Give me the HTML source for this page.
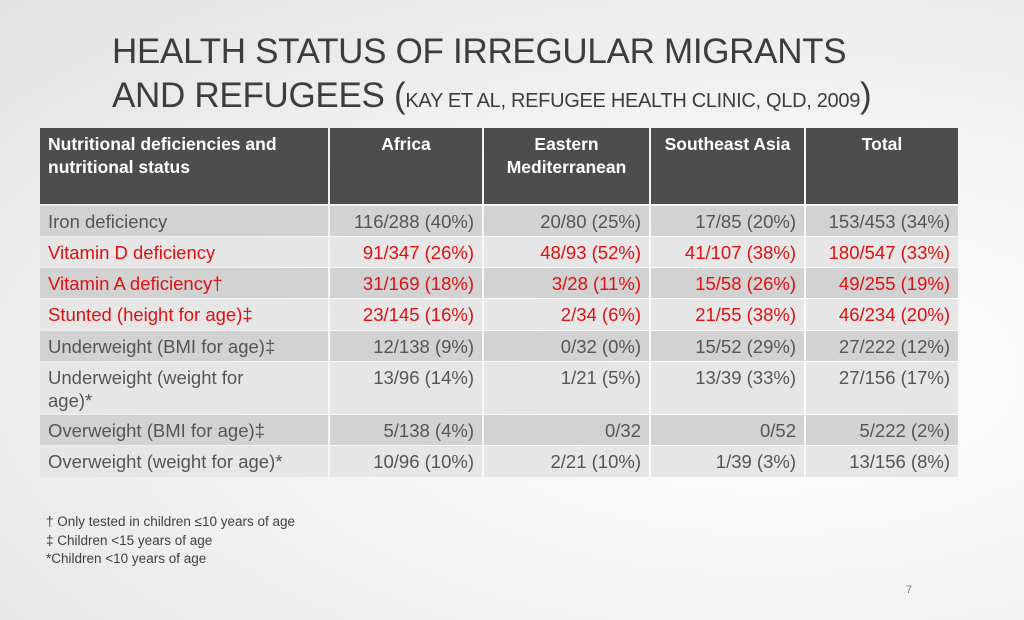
<!DOCTYPE html>
<html><head><meta charset="utf-8">
<style>
html,body{margin:0;padding:0}
body{width:1024px;height:620px;position:relative;overflow:hidden;font-family:"Liberation Sans",sans-serif;
background:radial-gradient(ellipse at 75% 60%,#ffffff 0%,#f4f4f4 45%,#e2e2e2 100%);}
.title{position:absolute;left:112px;top:30px;color:#3c3c3c;font-size:35px;line-height:44px;letter-spacing:-0.3px}
.title small{font-size:20px}
.c{position:absolute;box-sizing:border-box;font-size:18.5px;line-height:31px;padding:0 8px;color:#555}
.h{position:absolute;box-sizing:border-box;background:#4d4d4d;color:#fff;font-weight:bold;font-size:17.5px;line-height:23px;padding:5px 8px;text-align:center;top:128px;height:76px}
.r{text-align:right}
.red{color:#e01010}
.notes{position:absolute;left:46px;top:513px;font-size:13.5px;line-height:18.5px;color:#404040}
.pg{position:absolute;left:906px;top:584px;font-size:11px;color:#777}
</style></head><body>
<div class="title">HEALTH STATUS OF IRREGULAR MIGRANTS<br>AND REFUGEES (<small>KAY ET AL, REFUGEE HEALTH CLINIC, QLD, 2009</small>)</div>
<div id="tbl"></div>
<div class="notes">† Only tested in children ≤10 years of age<br>‡ Children &lt;15 years of age<br>*Children &lt;10 years of age</div>
<div class="pg">7</div>
<script>
const colX=[40,330,484,651,806,960];
const headers=["Nutritional deficiencies and nutritional status","Africa","Eastern Mediterranean","Southeast Asia","Total"];
const rowTop=[206,237,268,299,331,362,415,446];
const rowH=[30,30,30,31,30,52,30,31];
const labels=["Iron deficiency","Vitamin D deficiency","Vitamin A deficiency†","Stunted (height for age)‡","Underweight (BMI for age)‡","Underweight (weight for age)*","Overweight (BMI for age)‡","Overweight (weight for age)*"];
const africa=["116/288 (40%)","91/347 (26%)","31/169 (18%)","23/145 (16%)","12/138 (9%)","13/96 (14%)","5/138 (4%)","10/96 (10%)"];
const eastMed=["20/80 (25%)","48/93 (52%)","3/28 (11%)","2/34 (6%)","0/32 (0%)","1/21 (5%)","0/32","2/21 (10%)"];
const seAsia=["17/85 (20%)","41/107 (38%)","15/58 (26%)","21/55 (38%)","15/52 (29%)","13/39 (33%)","0/52","1/39 (3%)"];
const total=["153/453 (34%)","180/547 (33%)","49/255 (19%)","46/234 (20%)","27/222 (12%)","27/156 (17%)","5/222 (2%)","13/156 (8%)"];
const redRows=[1,2,3];
const t=document.getElementById('tbl');
headers.forEach((h,i)=>{
 const d=document.createElement('div');d.className='h';
 
 
 d.style.left=colX[i]+'px';d.style.width=(colX[i+1]-colX[i]-2)+'px';
 if(i===0)d.style.textAlign='left';
 d.textContent=h;t.appendChild(d);
});
const cols=[labels,africa,eastMed,seAsia,total];
labels.forEach((_,r)=>{
 cols.forEach((col,i)=>{
  const d=document.createElement('div');
  d.className='c'+(i>0?' r':'')+(redRows.includes(r)?' red':'');
  
  
  d.style.left=colX[i]+'px';d.style.width=(colX[i+1]-colX[i]-2)+'px';
  d.style.top=rowTop[r]+'px';d.style.height=rowH[r]+'px';
  d.style.background=(r%2===0)?'#d2d2d2':'#e6e6e6';
  if(i===0&&r===5){d.style.lineHeight='23px';d.style.paddingTop='4px';d.style.paddingRight='40px';}
  d.textContent=col[r];t.appendChild(d);
 });
});
</script>
</body></html>
